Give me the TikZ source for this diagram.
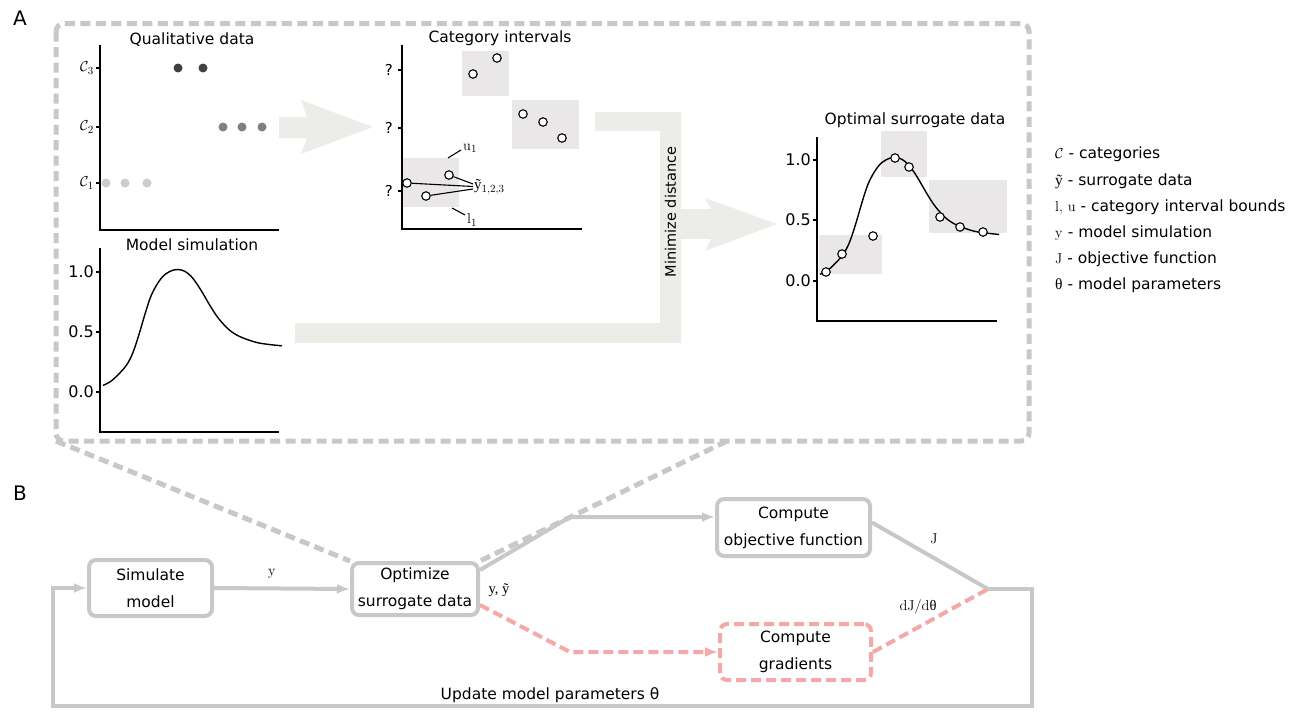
\documentclass[tikz,border=0pt]{standalone}
\usepackage[no-math]{fontspec}
\setmainfont{DejaVu Sans}
\newfontfamily\grk{Liberation Serif}
\usetikzlibrary{arrows.meta}
\definecolor{boxgray}{RGB}{200,200,200}
\definecolor{pinkc}{RGB}{245,168,168}
\definecolor{greyfill}{RGB}{233,231,231}
\definecolor{bigarrow}{RGB}{236,236,232}
\definecolor{dotthree}{RGB}{64,64,64}
\definecolor{dottwo}{RGB}{128,128,128}
\definecolor{dotone}{RGB}{204,204,204}
\newcommand\drawsimcurve{\draw[line width=1.4pt] plot[smooth, tension=0.55] coordinates {(0,0.055) (8,0.09) (17,0.16) (24,0.23) (30,0.33) (36,0.48) (42,0.65) (48,0.80) (55,0.91) (62,0.98) (70,1.015) (76,1.02) (82,1.005) (88,0.965) (94,0.90) (100,0.82) (107,0.72) (114,0.63) (121,0.56) (128,0.505) (136,0.465) (145,0.435) (155,0.41) (167,0.395) (179,0.385)};}
\begin{document}
\begin{tikzpicture}[x=1pt,y=-1pt,
  axisline/.style={line width=1.4pt, black},
  titletext/.style={font=\fontsize{15.5}{18}\selectfont},
  ticklab/.style={font=\fontsize{16}{19}\selectfont, anchor=east, inner sep=1pt},
  openpt/.style={circle, draw=black, fill=white, line width=1.1pt, minimum size=8.5pt, inner sep=0pt},
  catdot/.style={circle, inner sep=0pt, minimum size=9pt},
  legtext/.style={font=\fontsize{15.5}{18}\selectfont, anchor=base west, inner sep=0pt},
  procbox/.style={draw=boxgray, line width=4pt, rounded corners=7pt, fill=white, align=center, font=\fontsize{15.5}{27}\selectfont, inner sep=2pt},
  gradbox/.style={draw=pinkc, line width=4pt, rounded corners=7pt, fill=white, align=center, font=\fontsize{15.5}{27}\selectfont, dash pattern=on 10pt off 5pt, inner sep=2pt},
  conn/.style={draw=boxgray, line width=4pt},
  pinkconn/.style={draw=pinkc, line width=4pt, dash pattern=on 10pt off 5pt},
  dashbox/.style={draw=boxgray, line width=5pt, dash pattern=on 10pt off 5.5pt},
  tip/.style={-{Latex[length=13pt,width=10pt]}},
  smalltext/.style={font=\fontsize{14.5}{17}\selectfont}
]
\useasboundingbox (0,0) rectangle (1303,712);

% panel letters
\node[font=\fontsize{20}{24}\selectfont] (labA) at (20,18) {A};
\node[font=\fontsize{20}{24}\selectfont] (labB) at (20,493) {B};

% dashed frame
\draw[dashbox, rounded corners=8pt] (56,23.5) rectangle (1029,441);
\coordinate (boxBL) at (56,441);
\coordinate (boxB) at (727,441);

% big arrows
\fill[bigarrow] (279,117) -- (307,117) -- (301,100) -- (373,127) -- (301,154) -- (307,138) -- (279,138) -- cycle;
\fill[bigarrow] (595,112) -- (681,112) -- (681,209) -- (711,209) -- (705,198) -- (777,224) -- (705,251) -- (711,239) -- (681,239) -- (681,343) -- (295,343) -- (295,323) -- (660,323) -- (660,131) -- (595,131) -- cycle;
\node[rotate=90, font=\fontsize{14.5}{17}\selectfont] (mind) at (670.5,212) {Minimize distance};

% ---------- Qualitative data
\node[titletext] (t1) at (192,40) {Qualitative data};
\draw[axisline] (100,45) -- (100,230) -- (279,230);
\foreach \yy/\lab in {68/3,127/2,183/1}{
  \draw[axisline] (96,\yy) -- (100,\yy);
  \node[ticklab, font=\fontsize{15}{18}\selectfont] (cat\lab) at (95,\yy) {$\mathcal{C}_{\lab}$};
}
\node[catdot, fill=dotthree] (d31) at (178,68) {};
\node[catdot, fill=dotthree] (d32) at (203,68) {};
\node[catdot, fill=dottwo] (d21) at (223,127) {};
\node[catdot, fill=dottwo] (d22) at (242,127) {};
\node[catdot, fill=dottwo] (d23) at (262,127) {};
\node[catdot, fill=dotone] (d11) at (106,183) {};
\node[catdot, fill=dotone] (d12) at (125,183) {};
\node[catdot, fill=dotone] (d13) at (147,183) {};

% ---------- Model simulation
\node[titletext] (t2) at (192,245) {Model simulation};
\draw[axisline] (100,248) -- (100,432) -- (279,432);
\foreach \yy/\lab/\nm in {272/1.0/a,332/0.5/b,392/0.0/c}{
  \draw[axisline] (96,\yy) -- (100,\yy);
  \node[ticklab] (ms\nm) at (95,\yy) {\lab};
}
\begin{scope}[shift={(103,392)}, x=1pt, y=120pt]
  \drawsimcurve
\end{scope}

% ---------- Category intervals
\node[titletext] (t3) at (500,38) {Category intervals};
\fill[greyfill] (462,51) rectangle (509,96);
\fill[greyfill] (512,100) rectangle (579,149);
\fill[greyfill] (402,158) rectangle (459,207);
\draw[axisline] (402,45) -- (402,229) -- (582,229);
\foreach \yy/\nm in {70/a,128/b,191/c}{
  \draw[axisline] (398,\yy) -- (402,\yy);
  \node[ticklab, font=\fontsize{15}{18}\selectfont] (q\nm) at (394,\yy) {?};
}
\node[openpt] (p1) at (473,74) {};
\node[openpt] (p2) at (497,58) {};
\node[openpt] (p3) at (523,114) {};
\node[openpt] (p4) at (543,122) {};
\node[openpt] (p5) at (562,138) {};
\node[openpt] (s1) at (407,183) {};
\node[openpt] (s2) at (449,175) {};
\node[openpt] (s3) at (426,196) {};
\coordinate (ya) at (473,184);
\coordinate (yb) at (473,186.5);
\coordinate (yc) at (473,189);
\draw[line width=1.1pt] (s1) -- (yb);
\draw[line width=1.1pt] (s2) -- (ya);
\draw[line width=1.1pt] (s3) -- (yc);
\node[anchor=west, inner sep=1pt, font=\fontsize{15}{17}\selectfont] (ytl) at (473,187) {{\grk ỹ}$_{1,2,3}$};
\coordinate (u1a) at (448,158);
\coordinate (u1b) at (461,150);
\draw[line width=1.1pt] (u1a) -- (u1b);
\node[anchor=west, inner sep=1pt, font=\fontsize{15}{17}\selectfont] (u1l) at (462,148) {$\mathrm{u}_1$};
\coordinate (l1a) at (452,208);
\coordinate (l1b) at (465,215);
\draw[line width=1.1pt] (l1a) -- (l1b);
\node[anchor=west, inner sep=1pt, font=\fontsize{15}{17}\selectfont] (l1l) at (466,220) {$\mathrm{l}_1$};

% ---------- Optimal surrogate data
\node[titletext] (t4) at (915,120) {Optimal surrogate data};
\fill[greyfill] (819,235) rectangle (882,274);
\fill[greyfill] (881,131) rectangle (927,177);
\fill[greyfill] (929,180) rectangle (1007,233);
\draw[axisline] (817,137) -- (817,321) -- (997,321);
\foreach \yy/\lab/\nm in {160/1.0/a,220/0.5/b,281/0.0/c}{
  \draw[axisline] (813,\yy) -- (817,\yy);
  \node[ticklab] (os\nm) at (812,\yy) {\lab};
}
\begin{scope}[shift={(820,281)}, x=1pt, y=121pt]
  \drawsimcurve
\end{scope}
\node[openpt] (o1) at (826,272) {};
\node[openpt] (o2) at (842,254) {};
\node[openpt] (o3) at (873,236) {};
\node[openpt] (o4) at (895,158) {};
\node[openpt] (o5) at (909,167) {};
\node[openpt] (o6) at (940,217) {};
\node[openpt] (o7) at (960,227) {};
\node[openpt] (o8) at (983,232) {};

% ---------- legend
\node[legtext] (lg1) at (1055,158) {$\mathcal{C}$ - categories};
\node[legtext] (lg2) at (1055,185) {{\grk ỹ} - surrogate data};
\node[legtext] (lg3) at (1055,211) {$\mathrm{l,\,u}$ - category interval bounds};
\node[legtext] (lg4) at (1055,237) {$\mathrm{y}$ - model simulation};
\node[legtext] (lg5) at (1055,263) {$\mathrm{J}$ - objective function};
\node[legtext] (lg6) at (1055,289) {{\grk θ} - model parameters};

% ---------- part B
\node[procbox, minimum width=123pt, minimum height=56pt] (sim) at (150.5,588) {Simulate\\model};
\node[procbox, minimum width=126pt, minimum height=52pt] (opt) at (415,589) {Optimize\\surrogate data};
\node[procbox, minimum width=153pt, minimum height=57pt] (obj) at (793.5,527.5) {Compute\\objective function};
\node[gradbox, minimum width=151pt, minimum height=56pt] (grad) at (795.5,652) {Compute\\gradients};

\draw[dashbox] (boxBL) -- (opt.north west);
\draw[dashbox] (boxB) -- (opt.north east);

\draw[conn, tip] (sim.east) -- (opt.west);
\node[smalltext] (ylab) at (272,574) {$\mathrm{y}$};

\coordinate (bendA) at (570,517);
\draw[conn, tip] ([yshift=-9pt]opt.north east) -- (bendA) -- (bendA -| obj.west);
\node[smalltext, anchor=west] (yytl) at (485,590) {\grk y, ỹ};

\coordinate (bendB) at (570,652);
\draw[pinkconn, tip] ([yshift=12pt]opt.south east) -- (bendB) -- (grad.west);

\coordinate (meet) at (988,589);
\draw[conn] ([yshift=5pt]obj.east) -- (meet);
\draw[pinkconn] (grad.east) -- (meet);
\node[smalltext] (jlab) at (934,539) {$\mathrm{J}$};
\node[smalltext] (djlab) at (918,607) {$\mathrm{dJ/d}$\grk θ};

\coordinate (lowR) at (1032,706);
\coordinate (lowL) at (53,706);
\draw[conn, tip] (meet) -| (lowR) -- (lowL) |- (sim.west);
\node[font=\fontsize{15.5}{18}\selectfont] (upd) at (550,695) {Update model parameters θ};
\end{tikzpicture}
\end{document}
